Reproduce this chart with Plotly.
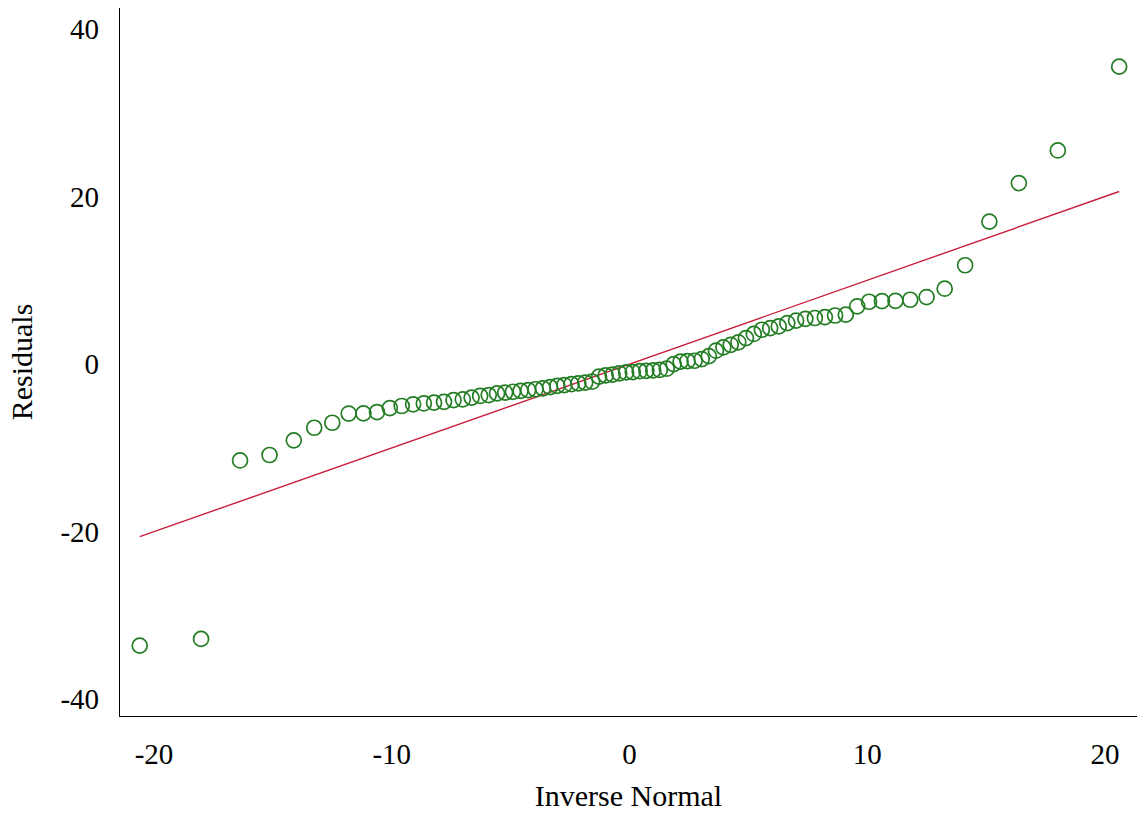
import plotly.graph_objects as go

# Normal quantile plot of residuals (80 observations)
inverse_normal = [
    -20.60, -18.02, -16.38, -15.14, -14.12, -13.26, -12.50, -11.81, -11.19, -10.62,
    -10.08, -9.58, -9.10, -8.65, -8.22, -7.80, -7.40, -7.01, -6.64, -6.28,
    -5.92, -5.57, -5.23, -4.90, -4.58, -4.26, -3.95, -3.64, -3.34, -3.04,
    -2.74, -2.44, -2.15, -1.86, -1.57, -1.28, -1.00, -0.71, -0.43, -0.14,
    0.14, 0.43, 0.71, 1.00, 1.28, 1.57, 1.86, 2.15, 2.44, 2.74,
    3.04, 3.34, 3.64, 3.95, 4.26, 4.58, 4.90, 5.23, 5.57, 5.92,
    6.28, 6.64, 7.01, 7.40, 7.80, 8.22, 8.65, 9.10, 9.58, 10.08,
    10.62, 11.19, 11.81, 12.50, 13.26, 14.12, 15.14, 16.38, 18.02, 20.60,
]

residuals = [
    -33.6, -32.8, -11.5, -10.85, -9.1, -7.6, -7.0, -5.9, -5.88, -5.73,
    -5.25, -5.0, -4.8, -4.7, -4.6, -4.5, -4.3, -4.2, -4.0, -3.8,
    -3.7, -3.5, -3.4, -3.3, -3.2, -3.1, -3.0, -2.9, -2.75, -2.6,
    -2.5, -2.4, -2.3, -2.2, -2.1, -1.5, -1.35, -1.25, -1.1, -1.0,
    -0.95, -0.85, -0.8, -0.75, -0.7, -0.55, 0.0, 0.3, 0.35, 0.4,
    0.6, 0.95, 1.6, 2.0, 2.3, 2.6, 3.1, 3.6, 4.1, 4.3,
    4.5, 4.9, 5.2, 5.4, 5.5, 5.6, 5.8, 5.9, 6.9, 7.44,
    7.52, 7.55, 7.68, 8.0, 9.0, 11.8, 17.0, 21.6, 25.5, 35.5,
]

x_ticks = [-20, -10, 0, 10, 20]
y_ticks = [-40, -20, 0, 20, 40]

# Reference line y = x spanning the quantile range
ref_x = [min(inverse_normal), max(inverse_normal)]
ref_y = list(ref_x)

serif = "Liberation Serif, Times New Roman, serif"

fig = go.Figure()
fig.add_trace(go.Scatter(
    x=ref_x, y=ref_y, mode="lines",
    line=dict(color="#c8203c", width=1.4),
    hoverinfo="skip", showlegend=False,
))
fig.add_trace(go.Scatter(
    x=inverse_normal, y=residuals, mode="markers",
    marker=dict(symbol="circle-open", size=15, color="#237d23",
                line=dict(width=1.7, color="#237d23")),
    showlegend=False,
))

fig.update_layout(
    width=1137, height=814,
    margin=dict(l=120, r=0, t=8, b=98),
    paper_bgcolor="white", plot_bgcolor="white",
    font=dict(family=serif, size=30, color="black"),
    xaxis=dict(
        range=[-21.43, 21.35], tickvals=x_ticks, ticktext=[str(v) for v in x_ticks],
        showgrid=False, zeroline=False, showline=True, linecolor="black", linewidth=1.2,
        ticks="", ticklabelstandoff=12, automargin=False,
        title=dict(text="Inverse Normal", standoff=16, font=dict(size=30)),
        tickfont=dict(size=29),
    ),
    yaxis=dict(
        range=[-42.0, 42.5], tickvals=y_ticks, ticktext=[str(v) for v in y_ticks],
        showgrid=False, zeroline=False, showline=True, linecolor="black", linewidth=1.2,
        ticks="", ticklabelstandoff=14, automargin=False,
        title=dict(text="Residuals", standoff=18, font=dict(size=30)),
        tickfont=dict(size=29),
    ),
)

fig.write_html("out.html")
